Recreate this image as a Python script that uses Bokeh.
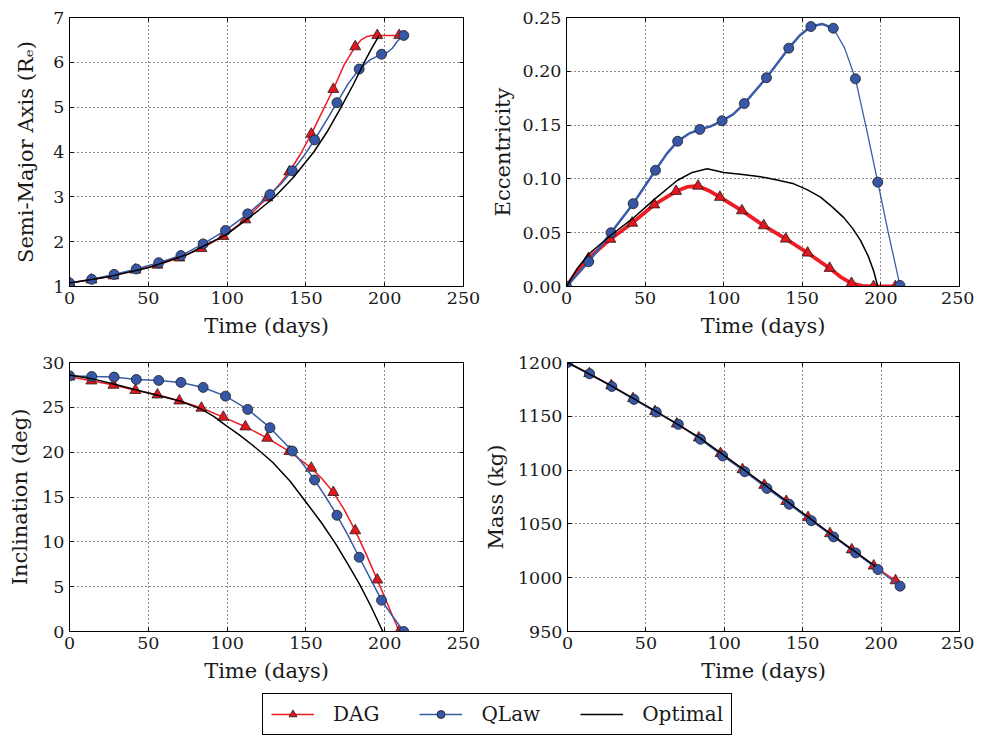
from bokeh.plotting import figure
from bokeh.layouts import column, row
from bokeh.models import (Range1d, FixedTicker, LinearAxis, Legend, LegendItem,
                          CustomJSTickFormatter, PrintfTickFormatter)
from bokeh.embed import file_html
from bokeh.resources import INLINE

FONT = "DejaVu Serif"
RED = "#ee1c24"
RED_FILL = "#e4161d"
BLUE = "#3a5ca8"
BLUE_FILL = "#3656a6"
EDGE = "#1e1e1e"

# ---------------- data ----------------
x_ticks = [0, 50, 100, 150, 200, 250]
x_tick_labels = ["0", "50", "100", "150", "200", "250"]

# marker times (days)
t_dag = [0.0, 13.9, 27.9, 41.8, 55.8, 69.7, 83.7, 97.6, 111.6, 125.5, 139.5, 153.4, 167.4, 181.3, 195.3, 209.2]
t_qlaw = [0.0, 14.1, 28.3, 42.4, 56.6, 70.7, 84.8, 99.0, 113.1, 127.2, 141.4, 155.5, 169.7, 183.8, 198.0, 212.1]

# Semi-major axis
sma_ticks = [1, 2, 3, 4, 5, 6, 7]
sma_tick_labels = ["1", "2", "3", "4", "5", "6", "7"]
sma_dag = [1.08, 1.15, 1.24, 1.37, 1.48, 1.64, 1.85, 2.12, 2.49, 2.98, 3.56, 4.40, 5.40, 6.35, 6.60, 6.60]
sma_qlaw = [1.08, 1.16, 1.27, 1.39, 1.53, 1.69, 1.95, 2.25, 2.62, 3.05, 3.58, 4.27, 5.10, 5.85, 6.18, 6.60]
sma_dag_line_t = [0, 13.9, 27.9, 41.8, 55.8, 69.7, 83.7, 97.6, 111.6, 125.5, 132.5, 139.5, 146.5, 153.4,
                  160.4, 167.4, 174.3, 181.3, 185.0, 188.3, 191.5, 195.3, 209.2]
sma_dag_line = [1.08, 1.15, 1.24, 1.37, 1.48, 1.64, 1.85, 2.12, 2.49, 2.98, 3.25, 3.56, 3.95, 4.40,
                4.90, 5.40, 5.95, 6.35, 6.50, 6.57, 6.60, 6.60, 6.60]
sma_qlaw_line_t = [0, 14.1, 28.3, 42.4, 56.6, 70.7, 84.8, 99.0, 113.1, 127.2, 134.3, 141.4, 148.5, 155.5,
                   162.6, 169.7, 176.8, 183.8, 190.9, 198.0, 202.0, 205.0, 208.0, 212.1]
sma_qlaw_line = [1.08, 1.16, 1.27, 1.39, 1.53, 1.69, 1.95, 2.25, 2.62, 3.05, 3.29, 3.58, 3.90, 4.27,
                 4.68, 5.10, 5.52, 5.85, 6.06, 6.18, 6.23, 6.32, 6.47, 6.60]
sma_opt_t = [0, 25, 50, 75, 100, 110, 120, 130, 142, 155, 164, 172, 180, 187, 192, 196.5]
sma_opt = [1.08, 1.22, 1.42, 1.72, 2.17, 2.43, 2.70, 2.99, 3.43, 4.00, 4.48, 4.98, 5.50, 6.00, 6.33, 6.60]

# Eccentricity
ecc_ticks = [0.0, 0.05, 0.1, 0.15, 0.2, 0.25]
ecc_tick_labels = ["0.00", "0.05", "0.10", "0.15", "0.20", "0.25"]
ecc_dag = [0.0, 0.026, 0.044, 0.059, 0.076, 0.0885, 0.0934, 0.083, 0.0705, 0.0566, 0.0442, 0.0312, 0.017, 0.003, 0.0, 0.0]
ecc_qlaw = [0.0, 0.023, 0.050, 0.077, 0.108, 0.135, 0.146, 0.154, 0.170, 0.194, 0.2215, 0.2416, 0.240, 0.193, 0.097, 0.001]
ecc_dag_line_t = [0, 7, 13.9, 27.9, 41.8, 55.8, 69.7, 76.7, 83.7, 90.6, 97.6, 111.6, 125.5, 139.5, 153.4,
                  167.4, 174.3, 181.3, 188.3, 195.3, 209.2]
ecc_dag_line = [0.0, 0.015, 0.026, 0.044, 0.059, 0.076, 0.0885, 0.0925, 0.0934, 0.089, 0.083, 0.0705, 0.0566,
                0.0442, 0.0312, 0.017, 0.009, 0.003, 0.0005, 0.0, 0.0]
ecc_qlaw_line_t = [0, 14.1, 28.3, 42.4, 56.6, 63.6, 70.7, 77.8, 84.8, 91.9, 99.0, 106.0, 113.1, 127.2, 141.4,
                   148.5, 155.5, 162.6, 169.7, 176.8, 183.8, 190.9, 198.0, 205.0, 212.1]
ecc_qlaw_line = [0.0, 0.023, 0.050, 0.077, 0.108, 0.123, 0.135, 0.142, 0.146, 0.149, 0.154, 0.160, 0.170, 0.194,
                 0.2215, 0.2335, 0.2416, 0.2440, 0.240, 0.222, 0.193, 0.146, 0.097, 0.048, 0.001]
ecc_opt_t = [0, 7, 14, 28, 42, 55.5, 70.4, 80, 89.5, 100, 112, 123.4, 134, 144.6, 153, 161.6, 169, 176.4,
             182, 187, 192, 195.5, 198]
ecc_opt = [0.0, 0.017, 0.030, 0.0474, 0.063, 0.0805, 0.0985, 0.106, 0.1094, 0.106, 0.104, 0.102, 0.099,
           0.0954, 0.090, 0.083, 0.074, 0.064, 0.054, 0.0428, 0.028, 0.014, 0.0]

# Inclination
inc_ticks = [0, 5, 10, 15, 20, 25, 30]
inc_tick_labels = ["0", "5", "10", "15", "20", "25", "30"]
inc_dag = [28.4, 27.96, 27.48, 26.9, 26.4, 25.73, 24.92, 23.91, 22.84, 21.57, 20.09, 18.23, 15.52, 11.25, 5.76, 0.0]
inc_qlaw = [28.52, 28.44, 28.37, 28.11, 28.0, 27.78, 27.22, 26.25, 24.77, 22.73, 20.13, 16.9, 12.96, 8.28, 3.49, 0.0]
inc_dag_line_t = [0.0, 13.9, 27.9, 41.8, 55.8, 69.7, 83.7, 97.6, 111.6, 125.5, 139.5, 153.4, 160.4, 167.4,
                  174.3, 181.3, 188.3, 195.3, 202.2, 209.2]
inc_dag_line = [28.4, 27.96, 27.48, 26.9, 26.4, 25.73, 24.92, 23.91, 22.84, 21.57, 20.09, 18.23, 17.0, 15.52,
                13.6, 11.25, 8.6, 5.76, 2.9, 0.0]
inc_qlaw_line_t = [0.0, 14.1, 28.3, 42.4, 56.6, 70.7, 84.8, 99.0, 113.1, 127.2, 141.4, 148.5, 155.5, 162.6,
                   169.7, 176.8, 183.8, 190.9, 198.0, 205.0, 212.1]
inc_qlaw_line = [28.52, 28.44, 28.37, 28.11, 28.0, 27.78, 27.22, 26.25, 24.77, 22.73, 20.13, 18.6, 16.9, 15.0,
                 12.96, 10.7, 8.28, 5.9, 3.49, 1.7, 0.0]
inc_opt_t = [0, 14, 28, 42, 50, 60, 70, 83.6, 91.5, 99.4, 107.5, 116, 122.5, 129, 140, 150, 160, 169, 177,
             184, 191, 198.8]
inc_opt = [28.6, 28.2, 27.6, 26.95, 26.6, 26.15, 25.7, 24.8, 24.0, 22.95, 21.95, 20.8, 19.85, 18.85, 16.75,
           14.45, 12.1, 9.74, 7.4, 5.28, 2.9, 0.0]

# Mass
mass_ticks = [950, 1000, 1050, 1100, 1150, 1200]
mass_tick_labels = ["950", "1000", "1050", "1100", "1150", "1200"]
mass_dag = [1200, 1189.8, 1178.5, 1166.5, 1154.5, 1143.0, 1130.0, 1115.5, 1100.5, 1086.0, 1071.0, 1056.0,
            1041.0, 1026.0, 1011.0, 997.3]
mass_qlaw = [1200, 1189.5, 1177.7, 1165.7, 1153.9, 1142.5, 1128.6, 1113.1, 1098.5, 1083.0, 1068.2, 1053.0,
             1037.9, 1023.0, 1007.6, 992.1]
mass_opt_t = [0, 28, 56, 84, 112, 140, 168, 196.5]
mass_opt = [1200, 1178.3, 1155.0, 1130.5, 1101.0, 1071.0, 1040.5, 1010.5]

series_names = ["DAG", "QLaw", "Optimal"]

TICK_FS = "17.5px"
LABEL_FS = "21px"


# ---------------- helpers ----------------
def style_axis(ax, ticks, labels, fmt):
    ax.ticker = FixedTicker(ticks=ticks)
    ax.formatter = PrintfTickFormatter(format=fmt)
    ax.major_label_overrides = {t: l for t, l in zip(ticks, labels)}
    ax.major_tick_in = 4
    ax.major_tick_out = 0
    ax.minor_tick_in = 0
    ax.minor_tick_out = 0
    ax.major_tick_line_color = "black"
    ax.major_tick_line_width = 1
    ax.axis_line_color = "black"
    ax.axis_line_width = 1
    ax.major_label_text_font = FONT
    ax.major_label_text_font_size = TICK_FS
    ax.major_label_text_color = "#1a1a1a"
    ax.major_label_standoff = 5
    ax.axis_label_text_font = FONT
    ax.axis_label_text_font_size = LABEL_FS
    ax.axis_label_text_font_style = "normal"
    ax.axis_label_text_color = "#1a1a1a"


def make_panel(width, height, bl, br, bt, bb, yr, yticks, ylabels, yfmt, ylabel, ystand):
    p = figure(width=width, height=height, output_backend="svg", toolbar_location=None,
               x_range=Range1d(0, 250), y_range=Range1d(*yr),
               min_border_left=bl, min_border_right=br, min_border_top=bt, min_border_bottom=bb)
    p.background_fill_color = "white"
    p.border_fill_color = "white"
    p.outline_line_color = "black"
    p.outline_line_width = 1
    p.outline_line_alpha = 1
    style_axis(p.xaxis[0], x_ticks, x_tick_labels, "%d")
    style_axis(p.yaxis[0], yticks, ylabels, yfmt)
    p.xaxis[0].axis_label = "Time (days)"
    p.xaxis[0].axis_label_standoff = 7
    p.yaxis[0].axis_label = ylabel
    p.yaxis[0].axis_label_standoff = ystand
    for g in (p.xgrid[0], p.ygrid[0]):
        g.grid_line_color = "black"
        g.grid_line_width = 0.9
        g.grid_line_alpha = 1.0
        g.grid_line_dash = "1 3"
    # inside ticks on top and right
    for loc, ticks in (("above", x_ticks), ("right", yticks)):
        ax = LinearAxis(ticker=FixedTicker(ticks=ticks),
                        formatter=CustomJSTickFormatter(code="return ''"))
        ax.major_tick_in = 4
        ax.major_tick_out = 0
        ax.minor_tick_in = 0
        ax.minor_tick_out = 0
        ax.major_tick_line_color = "black"
        ax.axis_line_color = None
        ax.major_label_standoff = 0
        ax.major_label_text_font_size = "1px"
        p.add_layout(ax, loc)
    return p


def draw(p, dag_lt, dag_l, dag_v, q_lt, q_l, q_v, o_t, o_v, dag_w=1.5, q_w=1.5, q_split=None):
    p.line(dag_lt, dag_l, line_color=RED, line_width=dag_w)
    p.scatter(t_dag, dag_v, marker="triangle", size=11, fill_color=RED_FILL,
              line_color=EDGE, line_width=0.8)
    if q_split is None:
        p.line(q_lt, q_l, line_color=BLUE, line_width=q_w)
    else:
        # thicker (noisy) early part, thin late part
        p.line(q_lt[:q_split + 1], q_l[:q_split + 1], line_color=BLUE, line_width=q_w)
        p.line(q_lt[q_split:], q_l[q_split:], line_color=BLUE, line_width=1.3)
    p.scatter(t_qlaw, q_v, marker="circle", size=10, fill_color=BLUE_FILL,
              line_color=EDGE, line_width=0.8)
    p.line(o_t, o_v, line_color="black", line_width=1.5)


# ---------------- panels ----------------
pA = make_panel(480, 345, 69, 17, 17, 59, (1, 7), sma_ticks, sma_tick_labels, "%d",
                "Semi-Major Axis (R\u2091)", 12)
draw(pA, sma_dag_line_t, sma_dag_line, sma_dag, sma_qlaw_line_t, sma_qlaw_line, sma_qlaw,
     sma_opt_t, sma_opt)

pB = make_panel(494, 345, 86, 15, 17, 59, (0, 0.25), ecc_ticks, ecc_tick_labels, "%.2f",
                "Eccentricity", 5)
draw(pB, ecc_dag_line_t, ecc_dag_line, ecc_dag, ecc_qlaw_line_t, ecc_qlaw_line, ecc_qlaw,
     ecc_opt_t, ecc_opt, dag_w=3.8, q_w=2.5, q_split=18)

pC = make_panel(480, 345, 69, 17, 17, 59, (0, 30), inc_ticks, inc_tick_labels, "%d",
                "Inclination (deg)", 7)
draw(pC, inc_dag_line_t, inc_dag_line, inc_dag, inc_qlaw_line_t, inc_qlaw_line, inc_qlaw,
     inc_opt_t, inc_opt)

pD = make_panel(494, 345, 86, 15, 17, 59, (950, 1200), mass_ticks, mass_tick_labels, "%d",
                "Mass (kg)", 7)
draw(pD, t_dag, mass_dag, mass_dag, t_qlaw, mass_qlaw, mass_qlaw, mass_opt_t, mass_opt)

# ---------------- legend ----------------
# legend-only figure: the series are drawn far outside its visible range,
# so only the legend glyphs show
pL = figure(width=974, height=47, output_backend="svg", toolbar_location=None,
            x_range=Range1d(0, 250), y_range=Range1d(-2000, -1000), min_border=0,
            x_axis_location=None, y_axis_location=None)
pL.outline_line_color = None
pL.xgrid.visible = False
pL.ygrid.visible = False
r_dl = pL.line(t_dag, mass_dag, line_color=RED, line_width=1.5)
r_dm = pL.scatter(t_dag, mass_dag, marker="triangle", size=10, fill_color=RED_FILL,
                  line_color=EDGE, line_width=0.8)
r_ql = pL.line(t_qlaw, mass_qlaw, line_color=BLUE, line_width=1.5)
r_qm = pL.scatter(t_qlaw, mass_qlaw, marker="circle", size=9, fill_color=BLUE_FILL,
                  line_color=EDGE, line_width=0.8)
r_ol = pL.line(mass_opt_t, mass_opt, line_color="black", line_width=1.5)
legend = Legend(items=[LegendItem(label=series_names[0], renderers=[r_dl, r_dm]),
                       LegendItem(label=series_names[1], renderers=[r_ql, r_qm]),
                       LegendItem(label=series_names[2], renderers=[r_ol])],
                location=(262, 2), orientation="horizontal", margin=0, padding=8,
                spacing=40, glyph_width=43, glyph_height=20, label_standoff=19,
                label_text_font=FONT, label_text_font_size="20px", label_text_color="#1a1a1a",
                border_line_color="black", border_line_width=1, border_line_alpha=1,
                background_fill_color="white", background_fill_alpha=1)
pL.add_layout(legend)

layout = column(row(pA, pB), row(pC, pD), pL)
open("out.html", "w").write(file_html(layout, INLINE))
